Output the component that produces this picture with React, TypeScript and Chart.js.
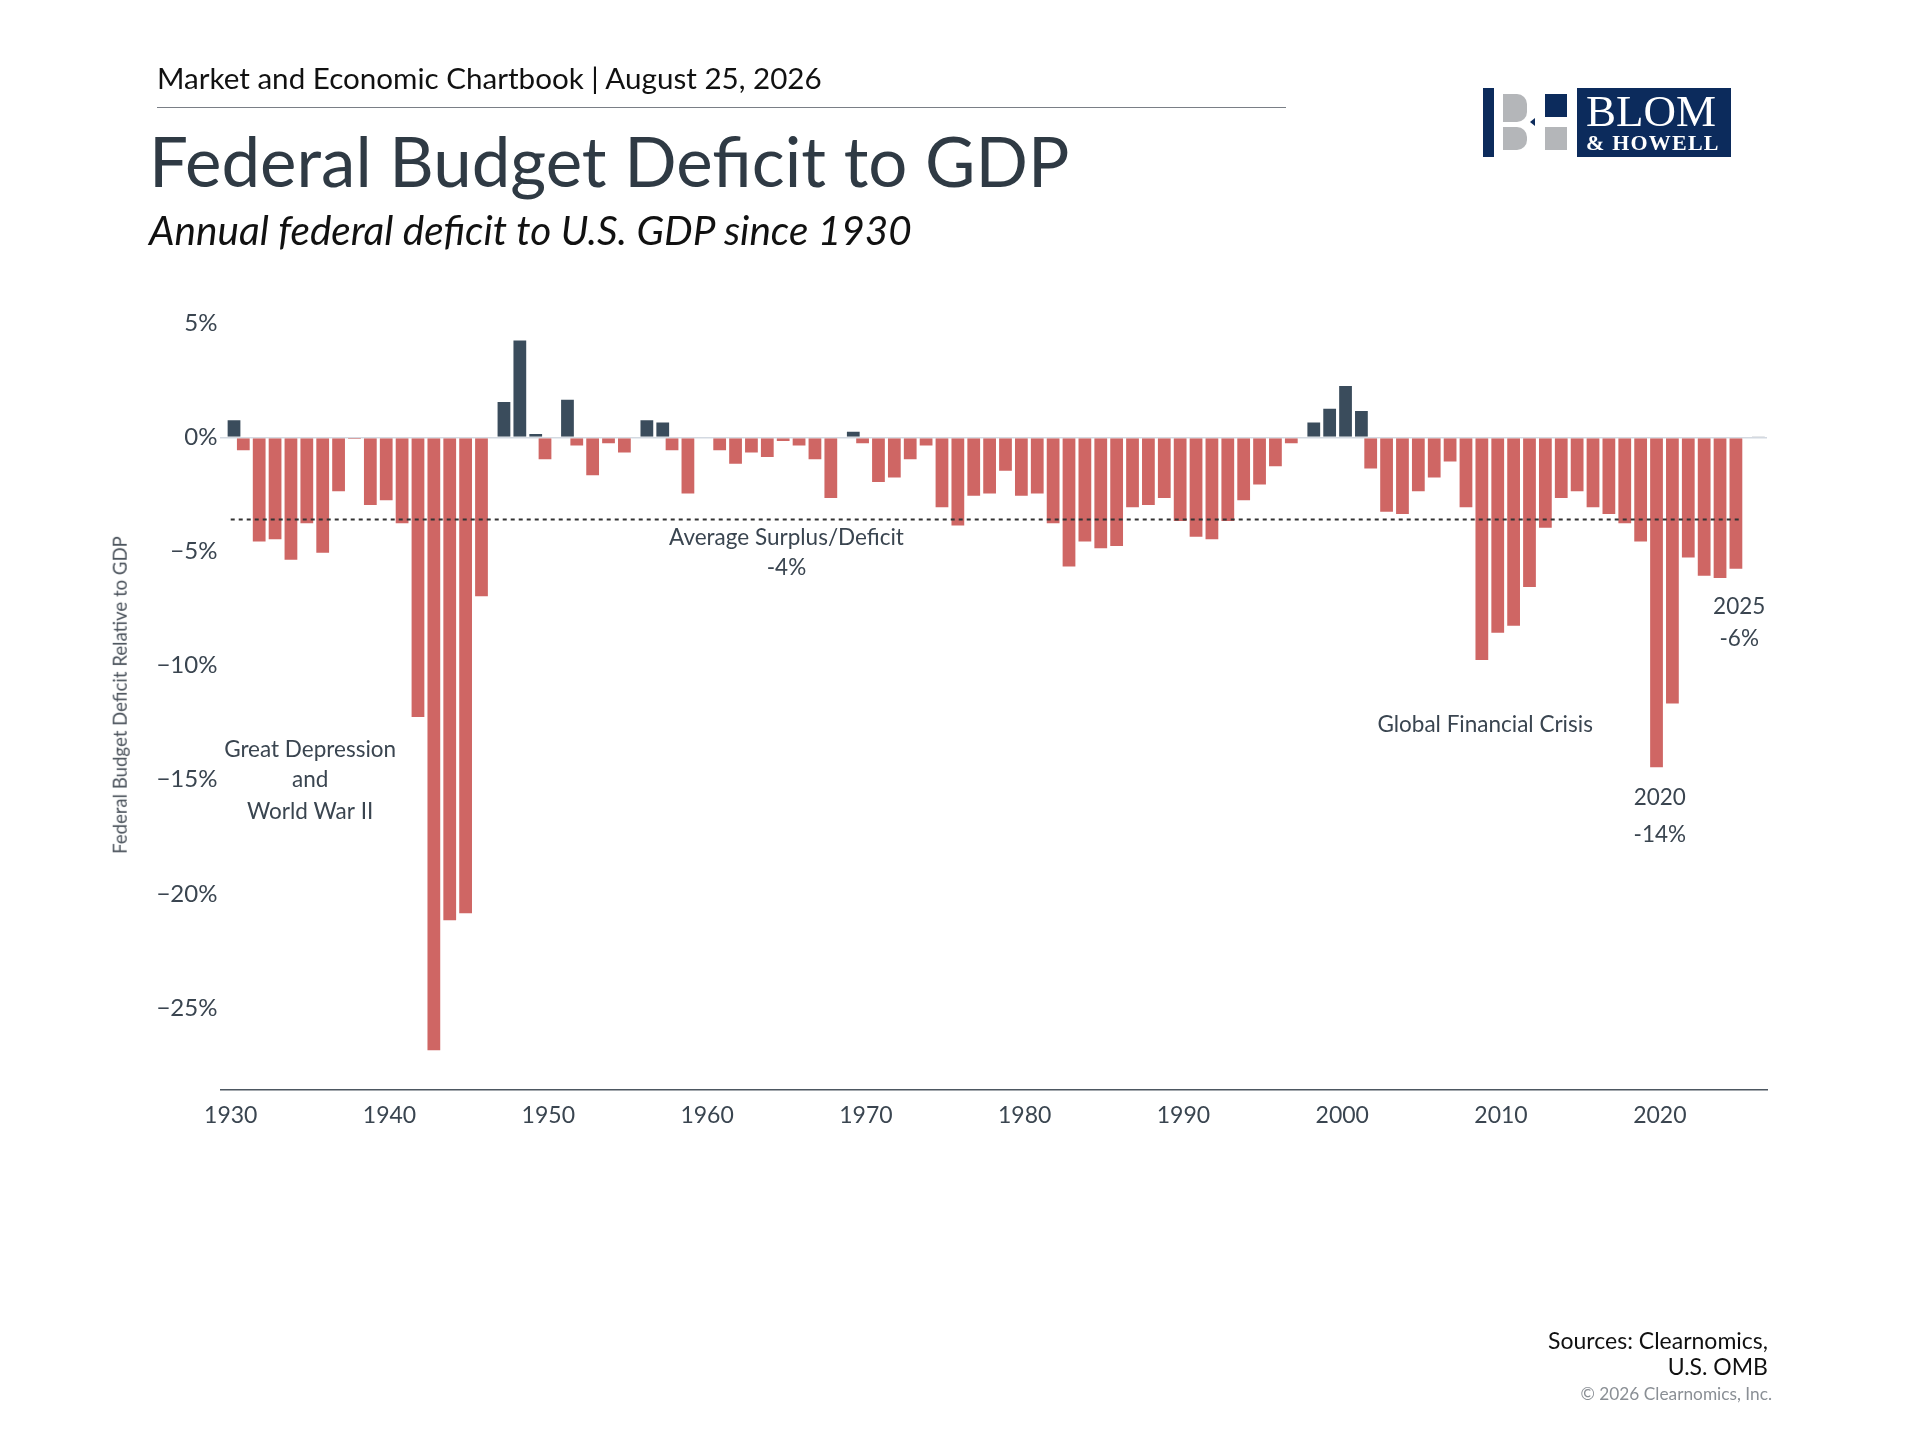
import React, { useEffect, useRef } from "react"
import { Chart, registerables } from "chart.js"

Chart.register(...registerables)

// fiscal years shown on the x axis
const YEARS = [
  1930, 1931, 1932, 1933, 1934, 1935, 1936, 1937, 1938, 1939,
  1940, 1941, 1942, 1943, 1944, 1945, 1946, 1947, 1948, 1949,
  1950, 1951, 1952, 1953, 1954, 1955, 1956, 1957, 1958, 1959,
  1960, 1961, 1962, 1963, 1964, 1965, 1966, 1967, 1968, 1969,
  1970, 1971, 1972, 1973, 1974, 1975, 1976, 1977, 1978, 1979,
  1980, 1981, 1982, 1983, 1984, 1985, 1986, 1987, 1988, 1989,
  1990, 1991, 1992, 1993, 1994, 1995, 1996, 1997, 1998, 1999,
  2000, 2001, 2002, 2003, 2004, 2005, 2006, 2007, 2008, 2009,
  2010, 2011, 2012, 2013, 2014, 2015, 2016, 2017, 2018, 2019,
  2020, 2021, 2022, 2023, 2024, 2025, 2026,
]

// surplus (+) / deficit (-) as % of GDP
const BALANCE_PCT = [
  0.8, -0.6, -4.6, -4.5, -5.4, -3.8, -5.1, -2.4, -0.1, -3.0,
  -2.8, -3.8, -12.3, -26.9, -21.2, -20.9, -7.0, 1.6, 4.3, 0.2,
  -1.0, 1.7, -0.4, -1.7, -0.3, -0.7, 0.8, 0.7, -0.6, -2.5,
  0.04, -0.6, -1.2, -0.7, -0.9, -0.2, -0.4, -1.0, -2.7, 0.3,
  -0.3, -2.0, -1.8, -1.0, -0.4, -3.1, -3.9, -2.6, -2.5, -1.5,
  -2.6, -2.5, -3.8, -5.7, -4.6, -4.9, -4.8, -3.1, -3.0, -2.7,
  -3.7, -4.4, -4.5, -3.7, -2.8, -2.1, -1.3, -0.3, 0.7, 1.3,
  2.3, 1.2, -1.4, -3.3, -3.4, -2.4, -1.8, -1.1, -3.1, -9.8,
  -8.6, -8.3, -6.6, -4.0, -2.7, -2.4, -3.1, -3.4, -3.8, -4.6,
  -14.5, -11.7, -5.3, -6.1, -6.2, -5.8, 0.05,
]

const AVERAGE_PCT = -3.6
const AVERAGE_FROM = 1930
const AVERAGE_TO = 2025

const ANNOTATIONS = [
  { text: "Great Depression", x: 1935, y: -13.7 },
  { text: "and", x: 1935, y: -15.0 },
  { text: "World War II", x: 1935, y: -16.4 },
  { text: "Average Surplus/Deficit", x: 1965, y: -4.4 },
  { text: "-4%", x: 1965, y: -5.7 },
  { text: "Global Financial Crisis", x: 2009, y: -12.6 },
  { text: "2020", x: 2020, y: -15.8 },
  { text: "-14%", x: 2020, y: -17.4 },
  { text: "2025", x: 2025, y: -7.4 },
  { text: "-6%", x: 2025, y: -8.8 },
]

const RED = "#cf6664"
const NAVY_BAR = "#3a4c5c"
const TEXT = "#2f3a44"
const FONT = "Lato, 'Open Sans', sans-serif"

const annotationPlugin = {
  id: "annotations",
  afterDatasetsDraw(chart: Chart) {
    const { ctx } = chart
    const x = chart.scales.x
    const y = chart.scales.y
    ctx.save()
    ctx.fillStyle = "#3a4550"
    ctx.font = `22.5px ${FONT}`
    ctx.textAlign = "center"
    ctx.textBaseline = "middle"
    for (const a of ANNOTATIONS) {
      ctx.fillText(a.text, x.getPixelForValue(a.x), y.getPixelForValue(a.y))
    }
    ctx.restore()
  },
}

function Logo() {
  const navy = "#0c2b5c"
  const gray = "#b4b6b9"
  const abs = (l: number, t: number, w: number, h: number, extra: React.CSSProperties = {}): React.CSSProperties => ({
    position: "absolute",
    left: l,
    top: t,
    width: w,
    height: h,
    ...extra,
  })
  return (
    <>
      <div style={abs(1483, 88, 11, 69, { background: navy })} />
      <div style={abs(1503, 94, 24, 28, { background: gray, borderRadius: "0 10px 10px 0" })} />
      <div style={abs(1503, 127, 24, 23, { background: gray, borderRadius: "0 10px 10px 0" })} />
      <div
        style={abs(1530, 118, 0, 0, {
          borderTop: "4px solid transparent",
          borderBottom: "4px solid transparent",
          borderRight: `5px solid ${navy}`,
        })}
      />
      <div style={abs(1545, 94, 22, 23, { background: navy })} />
      <div style={abs(1545, 127, 22, 23, { background: gray })} />
      <div style={abs(1577, 88, 154, 69, { background: navy })} />
      <div
        style={abs(1586, 89, 140, 46, {
          color: "#fff",
          fontFamily: "'Liberation Serif', 'DejaVu Serif', serif",
          fontSize: 45,
          lineHeight: 1,
          whiteSpace: "nowrap",
        })}
      >
        BLOM
      </div>
      <div
        style={abs(1586, 131.6, 140, 22, {
          color: "#fff",
          fontFamily: "'Liberation Serif', 'DejaVu Serif', serif",
          fontSize: 22,
          fontWeight: 700,
          letterSpacing: 1.2,
          lineHeight: 1,
          whiteSpace: "nowrap",
        })}
      >
        &amp; HOWELL
      </div>
    </>
  )
}

export default function App() {
  const canvasRef = useRef<HTMLCanvasElement>(null)
  const chartRef = useRef<Chart | null>(null)

  useEffect(() => {
    document.body.style.margin = "0"
    if (!canvasRef.current) return
    chartRef.current?.destroy()

    const deficits = BALANCE_PCT.map((v) => (v < 0 ? v : null))
    const surpluses = BALANCE_PCT.map((v) => (v >= 0 ? v : null))

    chartRef.current = new Chart(canvasRef.current, {
      type: "bar",
      data: {
        labels: YEARS,
        datasets: [
          {
            type: "line",
            label: "Average",
            data: [
              { x: AVERAGE_FROM, y: AVERAGE_PCT },
              { x: AVERAGE_TO, y: AVERAGE_PCT },
            ],
            borderColor: "#333333",
            borderWidth: 2,
            borderDash: [4, 4],
            pointRadius: 0,
            order: 0,
          },
          {
            label: "Deficit",
            data: deficits,
            backgroundColor: RED,
            borderColor: "rgba(255,255,255,0.45)",
            borderWidth: 1,
            categoryPercentage: 0.83,
            barPercentage: 2.24,
            order: 1,
          },
          {
            label: "Surplus",
            data: surpluses,
            backgroundColor: NAVY_BAR,
            borderColor: "rgba(255,255,255,0.45)",
            borderWidth: 1,
            categoryPercentage: 0.83,
            barPercentage: 2.24,
            order: 1,
          },
        ] as any,
      },
      options: {
        responsive: false,
        animation: false,
        devicePixelRatio: 1,
        layout: { padding: { left: 100, right: 153, top: 312, bottom: 300 } },
        plugins: { legend: { display: false }, tooltip: { enabled: false } },
        scales: {
          x: {
            type: "linear",
            min: 1929.35,
            max: 2026.75,
            offset: false,
            grid: { display: false, drawTicks: false, offset: false },
            border: { display: true, color: "#4d5761", width: 1.5 },
            afterFit: (scale: any) => {
              scale.height = 50
            },
            ticks: {
              stepSize: 10,
              includeBounds: false,
              maxRotation: 0,
              autoSkip: false,
              padding: 12,
              color: "#3a4550",
              font: { family: FONT, size: 23 },
              callback: (v: any) => String(v),
            },
          },
          y: {
            min: -28.6,
            max: 5.5,
            grid: {
              drawTicks: false,
              lineWidth: 1.5,
              color: (c: any) => (c.tick && c.tick.value === 0 ? "#d3d9e1" : "transparent"),
            },
            border: { display: false },
            afterFit: (scale: any) => {
              scale.width = 120.4
            },
            ticks: {
              stepSize: 5,
              includeBounds: false,
              padding: 3,
              color: "#3a4550",
              font: { family: FONT, size: 24 },
              callback: (v: any) => (v < 0 ? `\u2212${-v}%` : `${v}%`),
            },
          },
        },
      },
      plugins: [annotationPlugin],
    })

    return () => {
      chartRef.current?.destroy()
      chartRef.current = null
    }
  }, [])

  return (
    <div
      style={{
        position: "relative",
        width: 1920,
        height: 1440,
        background: "#fff",
        overflow: "hidden",
        fontFamily: FONT,
        color: TEXT,
      }}
    >
      <canvas ref={canvasRef} width={1920} height={1440} style={{ position: "absolute", left: 0, top: 0 }} />
      <div style={{ position: "absolute", left: 157, top: 62.7, fontSize: 29.6, lineHeight: 1, color: "#111", whiteSpace: "nowrap" }}>
        Market and Economic Chartbook | August 25, 2026
      </div>
      <div style={{ position: "absolute", left: 157, top: 107, width: 1129, height: 1, background: "#7a7f86" }} />
      <div style={{ position: "absolute", left: 149, top: 125.8, fontSize: 69, lineHeight: 1, whiteSpace: "nowrap" }}>
        Federal Budget Deficit to GDP
      </div>
      <div
        style={{ position: "absolute", left: 149, top: 210, fontSize: 40.5, lineHeight: 1, fontStyle: "italic", color: "#111", whiteSpace: "nowrap" }}
      >
        Annual federal deficit to U.S. GDP since 1930
      </div>
      <div
        style={{
          position: "absolute",
          left: 120,
          top: 695,
          transform: "translate(-50%, -50%) rotate(-90deg)",
          fontSize: 18.6,
          lineHeight: 1,
          color: "#4a525b",
          whiteSpace: "nowrap",
        }}
      >
        Federal Budget Deficit Relative to GDP
      </div>
      <Logo />
      <div style={{ position: "absolute", right: 152, top: 1328, fontSize: 23, lineHeight: 1.12, textAlign: "right", color: "#111" }}>
        Sources: Clearnomics,
        <br />
        U.S. OMB
      </div>
      <div style={{ position: "absolute", right: 148, top: 1385.4, fontSize: 17.3, lineHeight: 1, color: "#8a8f95", whiteSpace: "nowrap" }}>
        © 2026 Clearnomics, Inc.
      </div>
    </div>
  )
}
